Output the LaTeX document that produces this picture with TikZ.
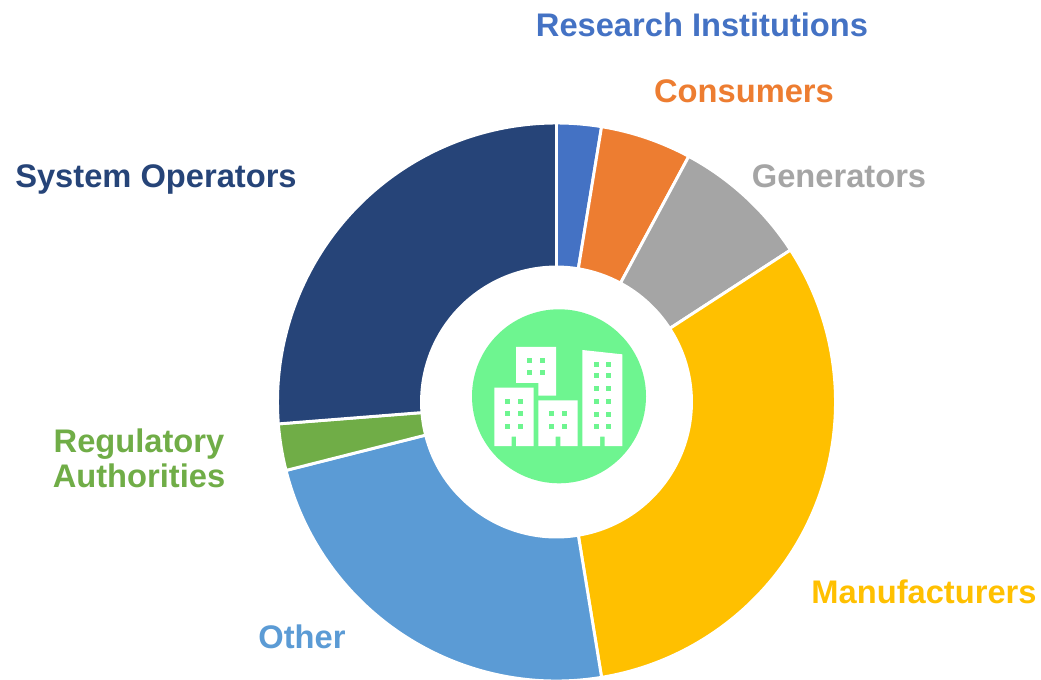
\documentclass[tikz,border=0pt]{standalone}
\usepackage{fontspec}
\setmainfont{Liberation Sans}
\definecolor{cNavy}{HTML}{264478}
\definecolor{cBlue}{HTML}{4472C4}
\definecolor{cOrange}{HTML}{ED7D31}
\definecolor{cGray}{HTML}{A5A5A5}
\definecolor{cYellow}{HTML}{FFC000}
\definecolor{cSky}{HTML}{5B9BD5}
\definecolor{cGreen}{HTML}{70AD47}
\definecolor{cMint}{HTML}{6EF590}
\tikzset{
  lab/.style={font=\bfseries\fontsize{24.5}{26}\selectfont, inner sep=0pt, align=center},
  seg/.style={draw=white, line width=2.2pt, line join=miter},
  win/.style={fill=cMint, draw=none},
}
\newcommand{\ringseg}[3]{%
  \path[seg, fill=#3, shift={(556.5,-402)}] (#1:279) arc[start angle=#1, end angle=#2, radius=279]
    -- (#2:135) arc[start angle=#2, end angle=#1, radius=135] -- cycle;}
\newcommand{\winrow}[2]{%
  \foreach \wx in {#1} {\fill[win] (\wx-7.5,#2-7.5) rectangle (\wx+7.5,#2+7.5);}}
\begin{document}
\begin{tikzpicture}[x=0.75pt,y=0.75pt]
\useasboundingbox (0,-680) rectangle (1041,0);
\fill[white] (0,-680) rectangle (1041,0);
% angles measured counter-clockwise from +x
\ringseg{90}{80.7}{cBlue}
\ringseg{80.7}{61.7}{cOrange}
\ringseg{61.7}{33}{cGray}
\ringseg{33}{-80.7}{cYellow}
\ringseg{-80.7}{-165.8}{cSky}
\ringseg{-165.8}{-175.5}{cGreen}
\ringseg{-175.5}{-270}{cNavy}
% centre badge
\node[circle, fill=cMint, minimum size=130.5pt, inner sep=0pt] (badge) at (559,-396.3) {};
\begin{scope}[shift={(460,-300)}, x=0.25pt, y=-0.25pt]
  \fill[white] (168,141) -- (288,141) -- (288,287) -- (235,287) -- (235,249) -- (168,249) -- cycle;
  \fill[white] (103,263) -- (221,263) -- (221,438) -- (168,438) -- (168,410) -- (155,410) -- (155,438) -- (103,438) -- cycle;
  \fill[white] (235,301) -- (353,301) -- (353,438) -- (301,438) -- (301,410) -- (287,410) -- (287,438) -- (235,438) -- cycle;
  \fill[white] (367,150) -- (487,163) -- (487,438) -- (434,438) -- (434,410) -- (420,410) -- (420,438) -- (367,438) -- cycle;
  \winrow{209,247}{181}\winrow{209,247}{219}
  \winrow{143,181}{303}\winrow{143,181}{341}\winrow{143,181}{379}
  \winrow{275,313}{341}\winrow{275,313}{379}
  \winrow{408,446}{195}\winrow{408,446}{228}\winrow{408,446}{266}
  \winrow{408,446}{304}\winrow{408,446}{342}\winrow{408,446}{380}
\end{scope}
% labels
\node[lab, text=cBlue] (research) at (702,-25) {Research Institutions};
\node[lab, text=cOrange] (consumers) at (744,-91) {Consumers};
\node[lab, text=cGray] (generators) at (839,-176) {Generators};
\node[lab, text=cNavy] (operators) at (156,-179) {System Operators};
\node[lab, text=cGreen] (regulatory) at (139,-458.5) {Regulatory\\Authorities};
\node[lab, text=cYellow] (manufacturers) at (924,-592) {Manufacturers};
\node[lab, text=cSky] (other) at (302,-637) {Other};
\end{tikzpicture}
\end{document}
